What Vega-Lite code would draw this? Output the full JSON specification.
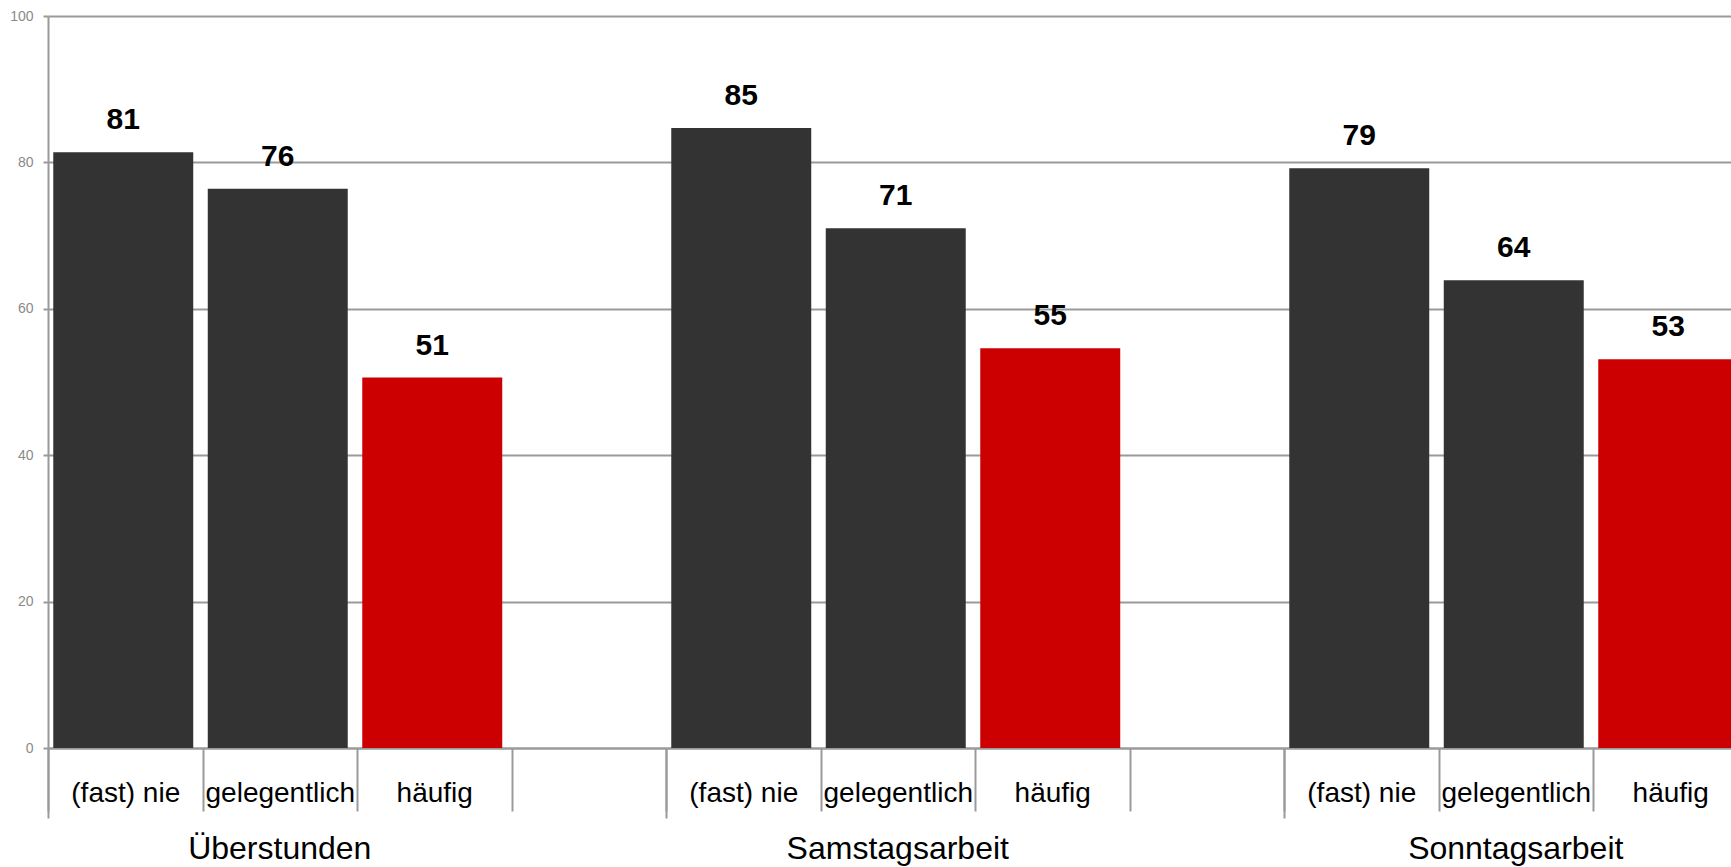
{
  "$schema": "https://vega.github.io/schema/vega-lite/v6.json",
  "width": 1683,
  "height": 732,
  "autosize": {"type": "none"},
  "padding": {"left": 48, "top": 16, "right": 0, "bottom": 119},
  "background": "white",
  "config": {"view": {"stroke": null}, "font": "Liberation Sans"},
  "data": {
    "values": [
      {"slot": "Überstunden|(fast) nie", "gruppe": "Überstunden", "kategorie": "(fast) nie", "wert": 81.4},
      {"slot": "Überstunden|gelegentlich", "gruppe": "Überstunden", "kategorie": "gelegentlich", "wert": 76.4},
      {"slot": "Überstunden|häufig", "gruppe": "Überstunden", "kategorie": "häufig", "wert": 50.6},
      {"slot": "Samstagsarbeit|(fast) nie", "gruppe": "Samstagsarbeit", "kategorie": "(fast) nie", "wert": 84.7},
      {"slot": "Samstagsarbeit|gelegentlich", "gruppe": "Samstagsarbeit", "kategorie": "gelegentlich", "wert": 71.0},
      {"slot": "Samstagsarbeit|häufig", "gruppe": "Samstagsarbeit", "kategorie": "häufig", "wert": 54.6},
      {"slot": "Sonntagsarbeit|(fast) nie", "gruppe": "Sonntagsarbeit", "kategorie": "(fast) nie", "wert": 79.2},
      {"slot": "Sonntagsarbeit|gelegentlich", "gruppe": "Sonntagsarbeit", "kategorie": "gelegentlich", "wert": 63.9},
      {"slot": "Sonntagsarbeit|häufig", "gruppe": "Sonntagsarbeit", "kategorie": "häufig", "wert": 53.1}
    ]
  },
  "resolve": {"scale": {"x": "shared", "y": "shared"}, "axis": {"x": "independent", "y": "independent"}},
  "layer": [
    {
      "transform": [{"filter": "datum.kategorie !== 'häufig'"}],
      "mark": {"type": "bar", "color": "#333333", "width": {"band": 0.906}, "xOffset": -2},
      "encoding": {
        "x": {
          "field": "slot", "type": "nominal", "sort": null,
          "scale": {
            "domain": ["Überstunden|(fast) nie", "Überstunden|gelegentlich", "Überstunden|häufig", "Überstunden|",
                       "Samstagsarbeit|(fast) nie", "Samstagsarbeit|gelegentlich", "Samstagsarbeit|häufig", "Samstagsarbeit|",
                       "Sonntagsarbeit|(fast) nie", "Sonntagsarbeit|gelegentlich", "Sonntagsarbeit|häufig", "Sonntagsarbeit|"],
            "range": [0, 1854], "paddingInner": 0, "paddingOuter": 0
          },
          "axis": {
            "orient": "bottom", "title": null, "tickBand": "extent", "tickSize": 63,
            "tickColor": "#9a9a9a", "tickWidth": 2, "domainColor": "#9a9a9a", "domainWidth": 2,
            "labelExpr": "split(datum.value, '|')[1]", "labelAngle": 0, "labelFontSize": 28,
            "labelColor": "#000000", "labelBaseline": "middle", "labelPadding": -18,
            "labelOverlap": false, "labelBound": false, "labelFlush": false, "labelLimit": 0, "grid": false
          }
        },
        "y": {
          "field": "wert", "type": "quantitative", "scale": {"domain": [0, 100]},
          "axis": {
            "title": null, "values": [0, 20, 40, 60, 80, 100], "grid": true,
            "gridColor": "#9a9a9a", "gridWidth": 2, "domainColor": "#9a9a9a", "domainWidth": 2,
            "tickColor": "#9a9a9a", "tickWidth": 2, "tickSize": 5, "labelFontSize": 14,
            "labelColor": "#8a8a8a", "labelPadding": 10
          }
        }
      }
    },
    {
      "mark": {"type": "text", "dy": -23, "dx": -2, "baseline": "alphabetic", "fontSize": 30, "fontWeight": "bold", "color": "#000000"},
      "encoding": {
        "x": {
          "field": "slot", "type": "nominal", "sort": null,
          "scale": {
            "domain": ["Überstunden|(fast) nie", "Überstunden|gelegentlich", "Überstunden|häufig", "Überstunden|",
                       "Samstagsarbeit|(fast) nie", "Samstagsarbeit|gelegentlich", "Samstagsarbeit|häufig", "Samstagsarbeit|",
                       "Sonntagsarbeit|(fast) nie", "Sonntagsarbeit|gelegentlich", "Sonntagsarbeit|häufig", "Sonntagsarbeit|"],
            "range": [0, 1854], "paddingInner": 0, "paddingOuter": 0
          },
          "axis": {
            "orient": "bottom", "title": null,
            "values": ["Überstunden|(fast) nie", "Samstagsarbeit|(fast) nie", "Sonntagsarbeit|(fast) nie"],
            "bandPosition": 0, "tickSize": 70, "tickColor": "#9a9a9a", "tickWidth": 2,
            "labels": false, "domain": false, "grid": false
          }
        },
        "y": {"field": "wert", "type": "quantitative", "axis": null},
        "text": {"field": "wert", "type": "quantitative", "format": ".0f"}
      }
    },
    {
      "transform": [{"filter": "datum.kategorie === 'häufig'"}],
      "mark": {"type": "bar", "color": "#cc0000", "width": {"band": 0.906}, "xOffset": -2},
      "encoding": {
        "x": {
          "field": "slot", "type": "nominal", "sort": null,
          "scale": {
            "domain": ["Überstunden|(fast) nie", "Überstunden|gelegentlich", "Überstunden|häufig", "Überstunden|",
                       "Samstagsarbeit|(fast) nie", "Samstagsarbeit|gelegentlich", "Samstagsarbeit|häufig", "Samstagsarbeit|",
                       "Sonntagsarbeit|(fast) nie", "Sonntagsarbeit|gelegentlich", "Sonntagsarbeit|häufig", "Sonntagsarbeit|"],
            "range": [0, 1854], "paddingInner": 0, "paddingOuter": 0
          },
          "axis": {
            "orient": "bottom", "title": null,
            "values": ["Überstunden|gelegentlich", "Samstagsarbeit|gelegentlich", "Sonntagsarbeit|gelegentlich"],
            "ticks": false, "domain": false, "grid": false,
            "labelExpr": "split(datum.value, '|')[0]", "labelAngle": 0, "labelFontSize": 32,
            "labelColor": "#000000", "labelBaseline": "middle", "labelPadding": 100,
            "labelLimit": 0, "labelOverlap": false, "labelBound": false, "labelFlush": false
          }
        },
        "y": {"field": "wert", "type": "quantitative", "axis": null}
      }
    }
  ]
}
